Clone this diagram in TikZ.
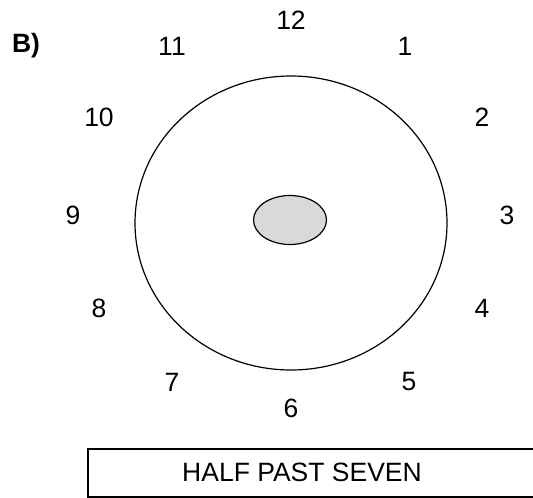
\documentclass[tikz,border=0pt]{standalone}
\usepackage{fontspec}
\setmainfont{Liberation Sans}
\begin{document}
\begin{tikzpicture}[x=1pt,y=-1pt,
  num/.style={font=\fontsize{26.5}{30}\selectfont, inner sep=0pt},
  ln/.style={line width=1.2pt}]
\useasboundingbox (0,0) rectangle (533,498);
\draw[ln] (291,223) ellipse [x radius=156, y radius=147];
\draw[ln, fill={rgb,255:red,217;green,217;blue,217}] (290,220) ellipse [x radius=36.5, y radius=24.5];
\node[num] (n12) at (291,20) {12};
\node[num] (n11) at (172,46) {11};
\node[num] (n1) at (405,46) {1};
\node[num] (n10) at (99,117) {10};
\node[num] (n2) at (482,117) {2};
\node[num] (n9) at (73,215) {9};
\node[num] (n3) at (507,215) {3};
\node[num] (n8) at (99,308) {8};
\node[num] (n4) at (482,308) {4};
\node[num] (n7) at (172,382) {7};
\node[num] (n5) at (409,382) {5};
\node[num] (n6) at (291,408) {6};
\node[num, font=\fontsize{26.5}{30}\selectfont\bfseries] (lab) at (26,46) {B)};
\coordinate (tr) at (533,449);
\coordinate (br) at (533,497);
\draw[ln] (tr) -- (88,449) -- (88,497) -- (br);
\node[num] (ans) at (302,472) {HALF PAST SEVEN};
\end{tikzpicture}
\end{document}
